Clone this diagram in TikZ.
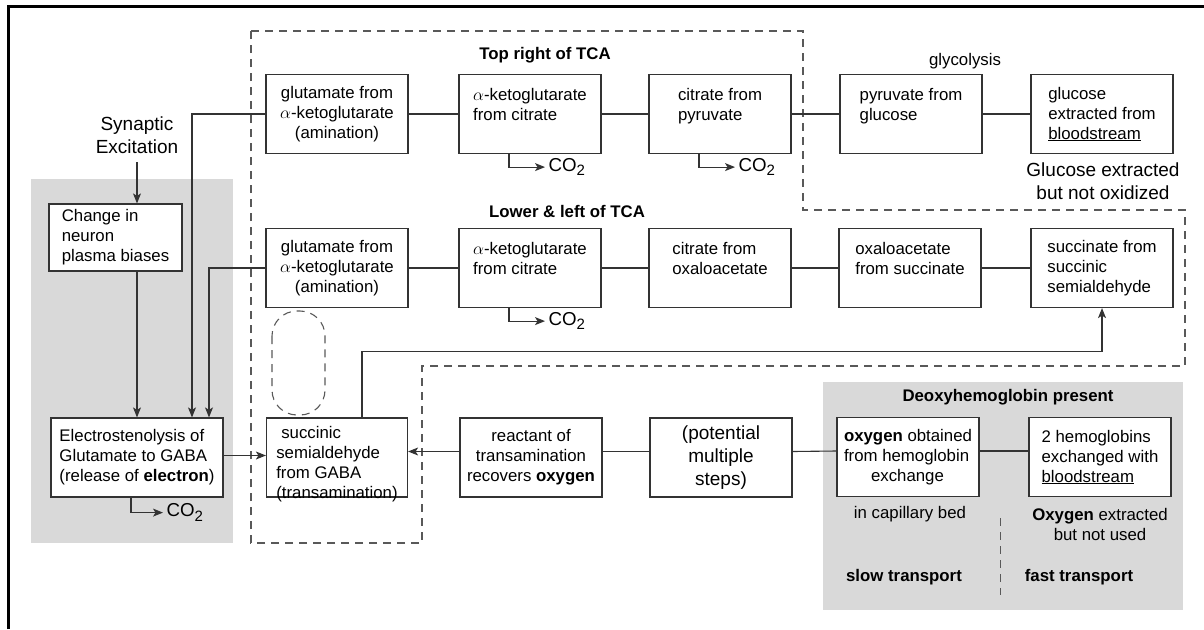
\documentclass[tikz,border=0pt]{standalone}
\usepackage{fontspec}
\setmainfont{Liberation Sans}
\usepackage{xcolor}
\usetikzlibrary{arrows.meta}
\definecolor{panelgray}{gray}{0.85}
\newcommand{\cotwo}{CO\raisebox{-0.45ex}{\fontsize{15}{15}\selectfont 2}}

\begin{document}
\begin{tikzpicture}[x=1pt,y=-1pt,
  font=\fontsize{16.8}{20}\selectfont,
  stage/.style={draw=black!80,line width=1.2pt,fill=white,minimum width=142pt,minimum height=79pt,inner sep=1pt},
  link/.style={draw=black!80,line width=1.1pt},
  feed/.style={link,-{Stealth[length=10pt,width=8pt,inset=2.5pt]}},
  region/.style={draw=black!65,line width=1.1pt,dash pattern=on 8pt off 6pt},
  big/.style={font=\fontsize{19}{23}\selectfont},
  co/.style={right,inner sep=3pt,font=\fontsize{18.7}{20}\selectfont}]
\useasboundingbox (0,0) rectangle (1204,629);
% shaded panels and frame
\fill[panelgray] (31,179) rectangle (233,543);
\fill[panelgray] (823,382) rectangle (1183,610);
\draw[line width=3pt] (8.5,629) -- (8.5,6) -- (1204,6);
\draw[region] (251,31) -- (803,31) -- (803,210) -- (1185,210) -- (1185,366) -- (422,366) -- (422,543) -- (251,543) -- cycle;
\draw[region,rounded corners=25pt] (272,311) rectangle (325,415);

% top row
\node[stage,align=center] (tg1) at (337,114) {glutamate from\\$\alpha$-ketoglutarate\\(amination)};
\node[stage,align=left] (tk1) at (530,114) {$\alpha$-ketoglutarate\\from citrate\\\mbox{}};
\node[stage,align=left] (tc1) at (720,114) {citrate from\\pyruvate\\\mbox{}};
\node[stage,align=left] (tp) at (911,114) {pyruvate from\\glucose\\\mbox{}};
\node[stage,align=left] (tgl) at (1102,114) {glucose\\extracted from\\\underline{bloodstream}};
\node (trt) at (545,55) {\textbf{Top right of TCA}};
\node (gly) at (965,61) {glycolysis};
\node[big,align=center] (gno) at (1103,181) {Glucose extracted\\but not oxidized};

% lower row
\node[stage,align=center] (lg) at (337,268) {glutamate from\\$\alpha$-ketoglutarate\\(amination)};
\node[stage,align=left] (lk) at (530,268) {$\alpha$-ketoglutarate\\from citrate\\\mbox{}};
\node[stage,align=left] (lc) at (720,268) {citrate from\\oxaloacetate\\\mbox{}};
\node[stage,align=left] (lo) at (910,268) {oxaloacetate\\from succinate\\\mbox{}};
\node[stage,align=left] (ls) at (1102,268) {succinate from\\succinic\\semialdehyde};
\node (llt) at (567,211) {\textbf{Lower \& left of TCA}};

% left panel
\node[big,align=center] (syn) at (137,135) {Synaptic\\Excitation};
\node[stage,minimum width=133pt,minimum height=67pt,align=left] (bias) at (115.5,237.5) {Change in\\neuron\\plasma biases};
\node[stage,minimum width=172pt,align=left] (elec) at (137,457.5) {Electrostenolysis of\\Glutamate to GABA\\(release of \textbf{electron})};

% bottom row
\node[stage,minimum width=141pt] (ssa) at (337,457.5) {};
\node[align=left] (ssatext) at (337,464) {\hspace*{5pt}succinic\\semialdehyde\\from GABA\\(transamination)};
\node[stage,align=center] (rt) at (531,457.5) {reactant of\\transamination\\recovers \textbf{oxygen}};
\node[stage,big,align=center] (pm) at (721,457.5) {(potential\\multiple\\steps)};
\node[stage,align=left] (ox) at (908,457) {\textbf{oxygen} obtained\\from hemoglobin\\\hspace*{27pt}exchange};
\node[stage,align=left] (hb) at (1100,457) {2 hemoglobins\\exchanged with\\\underline{bloodstream}};
\node (deoxy) at (1008,397) {\textbf{Deoxyhemoglobin present}};
\node (cap) at (910,514) {in capillary bed};
\node[align=center] (onu) at (1100,524) {\textbf{Oxygen} extracted\\but not used};
\node (slow) at (904,577) {\textbf{slow transport}};
\node (fast) at (1079,577) {\textbf{fast transport}};
\draw[region,line width=0.9pt] (1000,518) -- (1000,595);

% connectors
\foreach \a/\b in {tg1/tk1,tk1/tc1,tc1/tp,tp/tgl,lg/lk,lk/lc,lc/lo,lo/ls}
  \draw[link] (\a) -- (\b);
\foreach \a/\b in {hb/ox,ox/pm,pm/rt}
  \draw[link] ([yshift=6pt]\a.west) -- ([yshift=6pt]\b.east);
\draw[feed] ([yshift=6pt]rt.west) -- ([yshift=6pt]rt.west -| ssa.east);
\draw[feed] ([yshift=2pt]elec.east) -- ([yshift=2pt]elec.east -| ssa.west);
\draw[feed] ([yshift=-5pt]syn.south) -- (syn.south |- bias.north);
\draw[feed] (elec.north |- bias.south) -- (elec.north);
\draw[feed] (tg1.west) -| ([xshift=55pt]elec.north);
\draw[feed] (lg.west) -| ([xshift=72pt]elec.north);
\draw[feed] ([xshift=25pt]ssa.north) |- ([yshift=-43pt]ls.south) -- (ls.south);
\draw[feed] ([xshift=-21pt]tk1.south) |- ++(36,13) node[co] (co1) {\cotwo};
\draw[feed] ([xshift=-21pt]tc1.south) |- ++(36,13) node[co] (co2) {\cotwo};
\draw[feed] ([xshift=-21pt]lk.south) |- ++(36,13) node[co] (co3) {\cotwo};
\draw[feed] ([xshift=-6pt]elec.south) |- ++(32,15) node[co] (co4) {\cotwo};
\end{tikzpicture}
\end{document}
